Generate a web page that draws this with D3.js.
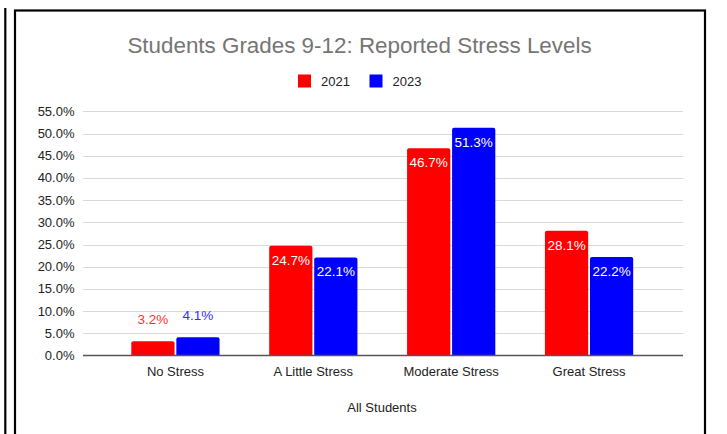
<!DOCTYPE html>
<html>
<head>
<meta charset="utf-8">
<script src="https://cdn.jsdelivr.net/npm/d3@7"></script>
<style>
  body { margin: 0; background: #fff; }
  text { font-family: Arial, "Liberation Sans", sans-serif; }
</style>
</head>
<body>
<svg id="chart"></svg>
<script>
// chart data
const categories = ["No Stress", "A Little Stress", "Moderate Stress", "Great Stress"];
const years = ["2021", "2023"];
const values2021 = [3.2, 24.7, 46.7, 28.1];
const values2023 = [4.1, 22.1, 51.3, 22.2];
const yTicks = [0, 5, 10, 15, 20, 25, 30, 35, 40, 45, 50, 55];
const colors = ["#ff0000", "#0000ff"];

const width = 727, height = 434;
const svg = d3.select("#chart").attr("width", width).attr("height", height);

// frame lines from the page around the chart
svg.append("rect").attr("x", 15).attr("y", 10.5).attr("width", 690).attr("height", 440)
  .attr("fill", "none").attr("stroke", "#000").attr("stroke-width", 2.2);
svg.append("line").attr("x1", 5.3).attr("x2", 5.3).attr("y1", 8).attr("y2", height)
  .attr("stroke", "#000").attr("stroke-width", 2.2);

const x = d3.scaleBand()
  .domain(categories)
  .range([106.5, 658])
  .paddingInner(0.36)
  .paddingOuter(0.18);

const xSub = d3.scaleBand()
  .domain(years)
  .range([0, x.bandwidth()])
  .paddingInner(0.04);

const y = d3.scaleLinear().domain([0, 55]).range([355.5, 111.3]);

// gridlines
svg.append("g")
  .selectAll("line")
  .data(yTicks.filter(d => d > 0))
  .join("line")
  .attr("x1", 83).attr("x2", 683)
  .attr("y1", d => Math.round(y(d)) + 0.5).attr("y2", d => Math.round(y(d)) + 0.5)
  .attr("stroke", "#d9d9d9").attr("stroke-width", 1.2);

// y labels
svg.append("g")
  .selectAll("text")
  .data(yTicks)
  .join("text")
  .attr("x", 74.5)
  .attr("y", d => y(d) + 4.5)
  .attr("text-anchor", "end")
  .attr("font-size", 13)
  .attr("fill", "#222")
  .text(d => d.toFixed(1) + "%");

// bars
const rows = categories.map((c, i) => ({ cat: c, vals: [values2021[i], values2023[i]] }));

const groups = svg.append("g")
  .selectAll("g")
  .data(rows)
  .join("g")
  .attr("transform", d => `translate(${x(d.cat)},0)`);

function topRounded(x0, y0, w, h, r) {
  r = Math.min(r, h);
  return `M${x0},${y0 + h}V${y0 + r}Q${x0},${y0} ${x0 + r},${y0}H${x0 + w - r}Q${x0 + w},${y0} ${x0 + w},${y0 + r}V${y0 + h}Z`;
}

groups.selectAll("path")
  .data(d => d.vals.map((v, j) => ({ year: years[j], v: v, j: j })))
  .join("path")
  .attr("d", d => topRounded(xSub(d.year), y(d.v), xSub.bandwidth(), y(0) - y(d.v), 2))
  .attr("fill", d => colors[d.j]);

// value labels: inside for tall bars, above for short ones
groups.selectAll("text")
  .data(d => d.vals.map((v, j) => ({ year: years[j], v: v, j: j })))
  .join("text")
  .attr("x", d => xSub(d.year) + xSub.bandwidth() / 2)
  .attr("y", d => d.v > 10 ? y(d.v) + 19 : y(d.v) - 17.5)
  .attr("text-anchor", "middle")
  .attr("font-family", "Roboto, Arial, sans-serif")
  .attr("font-size", 13.5)
  .attr("fill", d => d.v > 10 ? "#fff" : (d.j === 0 ? "#ff3030" : "#3030ff"))
  .text(d => d.v.toFixed(1) + "%");

// baseline
svg.append("line")
  .attr("x1", 83).attr("x2", 683)
  .attr("y1", y(0)).attr("y2", y(0))
  .attr("stroke", "#555").attr("stroke-width", 1.3);

// category labels
svg.append("g")
  .selectAll("text")
  .data(categories)
  .join("text")
  .attr("x", d => x(d) + x.bandwidth() / 2)
  .attr("y", 375.5)
  .attr("text-anchor", "middle")
  .attr("font-size", 13)
  .attr("fill", "#222")
  .text(d => d);

// axis title
svg.append("text")
  .attr("x", 382).attr("y", 412)
  .attr("text-anchor", "middle")
  .attr("font-size", 13)
  .attr("fill", "#222")
  .text("All Students");

// title
svg.append("text")
  .attr("x", 359.5).attr("y", 53)
  .attr("text-anchor", "middle")
  .attr("font-size", 22.4)
  .attr("fill", "#757575")
  .text("Students Grades 9-12: Reported Stress Levels");

// legend
const legendX = [298, 369.5];
const legend = svg.append("g")
  .selectAll("g")
  .data(years)
  .join("g")
  .attr("transform", (d, i) => `translate(${legendX[i]},74.5)`);
legend.append("rect")
  .attr("width", 13).attr("height", 13)
  .attr("fill", (d, i) => colors[i]);
legend.append("text")
  .attr("x", 23).attr("y", 11.5)
  .attr("font-size", 13)
  .attr("fill", "#222")
  .text(d => d);
</script>
</body>
</html>
